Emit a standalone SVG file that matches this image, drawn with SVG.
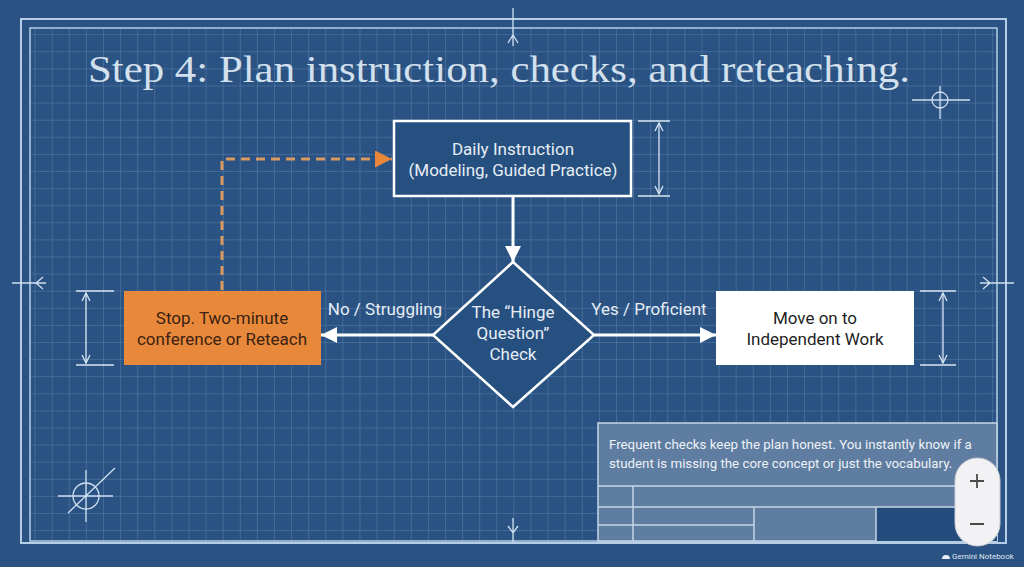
<svg xmlns="http://www.w3.org/2000/svg" width="1024" height="567" viewBox="0 0 1024 567">
  <defs>
    <pattern id="grid" x="0.4" y="0" width="17.1" height="17.1" patternUnits="userSpaceOnUse">
      <path d="M0,0 V17.1 M0,0 H17.1" fill="none" stroke="#a3c3e6" stroke-opacity="0.42" stroke-width="1"/>
    </pattern>
    <clipPath id="inner"><rect x="30" y="28" width="967" height="513"/></clipPath>
    <marker id="ah" viewBox="0 0 16 16" refX="16" refY="8" markerWidth="16" markerHeight="16" orient="auto" markerUnits="userSpaceOnUse">
      <path d="M0,0 L16,8 L0,16 z" fill="#ffffff"/>
    </marker>
    <marker id="ahOrange" viewBox="0 0 16 16" refX="16" refY="8" markerWidth="17" markerHeight="17" orient="auto" markerUnits="userSpaceOnUse">
      <path d="M0,0 L16,8 L0,16 z" fill="#e8873a"/>
    </marker>
    <marker id="dim" viewBox="0 0 10 10" refX="9" refY="5" markerWidth="10" markerHeight="10" orient="auto-start-reverse" markerUnits="userSpaceOnUse">
      <path d="M1,1 L9,5 L1,9" fill="none" stroke="#d9e6f3" stroke-width="1.3"/>
    </marker>
    <style>
      .lbl { font-family: Roboto, "Liberation Sans", sans-serif; font-size: 17px; fill: #e6edf5; text-anchor: middle; }
      .dark { fill: #1f1f1f; }
      .brown { fill: #3a2312; }
      .frame { fill: none; stroke: #b5cde6; }
      .mark { fill: none; stroke: #cfe0f1; stroke-width: 1.3; }
      .dimline { fill: none; stroke: #d9e6f3; stroke-width: 1.3; }
      .node { stroke: #ffffff; stroke-width: 2.5; }
      .conn { fill: none; stroke: #ffffff; stroke-width: 3; }
      .panel { fill: #c9d3de; fill-opacity: 0.33; stroke: #c6d6e6; stroke-width: 1.5; }
      .note { font-family: Roboto, "Liberation Sans", sans-serif; font-size: 13.3px; fill: #eef2f7; }
    </style>
  </defs>

  <!-- background -->
  <rect x="0" y="0" width="1024" height="567" fill="#2a5383"/>
  <rect x="30" y="28" width="967" height="513" fill="url(#grid)" clip-path="url(#inner)"/>
  <rect class="frame" x="21" y="19" width="985" height="524" stroke-width="2"/>
  <rect class="frame" x="30" y="28" width="967" height="513" stroke-width="1.5"/>

  <!-- registration marks -->
  <g id="marks">
    <path class="mark" d="M513,8 V46 M508,43 L513,35 L518,43"/>
    <path class="mark" d="M513,518 V542 M508,526 L513,533 L518,526"/>
    <path class="mark" d="M12,283 H46 M43,277 L36,283 L43,289"/>
    <path class="mark" d="M980,283 H1014 M983,277 L990,283 L983,289"/>
    <circle class="mark" cx="940" cy="100" r="8"/>
    <path class="mark" d="M912,100 H970 M940,86 V119"/>
    <circle class="mark" cx="86" cy="496" r="13"/>
    <path class="mark" d="M58,496 H113 M86,470 V522 M68,513 L115,468"/>
  </g>

  <!-- title -->
  <text id="title" x="88" y="82" font-family="'Liberation Serif', 'DejaVu Serif', serif" font-size="38" fill="#d3e0ee" textLength="822" lengthAdjust="spacingAndGlyphs">Step 4: Plan instruction, checks, and reteaching.</text>

  <!-- dimension markers -->
  <g id="dimensions">
    <path class="dimline" d="M638,121 H670 M638,196 H670"/>
    <line class="dimline" x1="659" y1="123" x2="659" y2="194" marker-start="url(#dim)" marker-end="url(#dim)"/>
    <path class="dimline" d="M76,291 H114 M76,365 H114"/>
    <line class="dimline" x1="86" y1="293" x2="86" y2="363" marker-start="url(#dim)" marker-end="url(#dim)"/>
    <path class="dimline" d="M920,291 H956 M920,365 H956"/>
    <line class="dimline" x1="943" y1="293" x2="943" y2="363" marker-start="url(#dim)" marker-end="url(#dim)"/>
  </g>

  <!-- connectors -->
  <g id="connectors">
    <line class="conn" x1="513" y1="197" x2="513" y2="262" marker-end="url(#ah)"/>
    <line class="conn" x1="433" y1="335" x2="321" y2="335" marker-end="url(#ah)"/>
    <line class="conn" x1="594" y1="335" x2="716" y2="335" marker-end="url(#ah)"/>
    <path d="M222,290 V159 H392" fill="none" stroke="#d99a62" stroke-width="3" stroke-dasharray="9,6" marker-end="url(#ahOrange)"/>
    <text class="lbl" x="385" y="315">No / Struggling</text>
    <text class="lbl" x="649" y="315">Yes / Proficient</text>
  </g>

  <!-- nodes -->
  <g id="daily">
    <rect class="node" x="394" y="121" width="237" height="75" fill="#265080"/>
    <text class="lbl" x="513" y="155">Daily Instruction</text>
    <text class="lbl" x="513" y="176">(Modeling, Guided Practice)</text>
  </g>

  <g id="hinge">
    <polygon class="node" points="513,262 594,335 513,407 433,335" fill="#265080"/>
    <text class="lbl" x="513" y="318">The “Hinge</text>
    <text class="lbl" x="513" y="339">Question”</text>
    <text class="lbl" x="513" y="360">Check</text>
  </g>

  <g id="stop">
    <rect x="124" y="291" width="197" height="74" fill="#e8883b"/>
    <text class="lbl brown" x="222" y="324">Stop. Two-minute</text>
    <text class="lbl brown" x="222" y="345">conference or Reteach</text>
  </g>

  <g id="move">
    <rect x="716" y="291" width="198" height="74" fill="#ffffff"/>
    <text class="lbl dark" x="815" y="324">Move on to</text>
    <text class="lbl dark" x="815" y="345">Independent Work</text>
  </g>

  <!-- note panel / title block -->
  <g id="note">
    <rect x="598" y="423" width="399" height="118" fill="#2a5383"/>
    <rect class="panel" x="598" y="423" width="399" height="118"/>
    <rect x="876" y="507" width="121" height="34" fill="#234c7c"/>
    <path d="M598,486 H997 M598,507 H997 M598,525 H754 M633,486 V541 M754,507 V541 M876,507 V541" fill="none" stroke="#c6d6e6" stroke-width="1.5"/>
    <text class="note" x="609" y="449">Frequent checks keep the plan honest. You instantly know if a</text>
    <text class="note" x="609" y="468">student is missing the core concept or just the vocabulary.</text>
  </g>

  <!-- zoom widget -->
  <g id="zoomctl">
    <rect x="955" y="458" width="45" height="88" rx="22.5" fill="#f2f2f4" stroke="#c9ced6" stroke-width="1"/>
    <path d="M970,481 H984 M977,474 V488 M970,524 H984" fill="none" stroke="#4a4a4a" stroke-width="1.8"/>
  </g>

  <!-- watermark -->
  <g id="watermark">
    <path d="M942,559 A4,4 0 0 1 950,559 Z" fill="#e8eef5"/>
    <text x="952" y="559" font-family="Roboto, 'Liberation Sans', sans-serif" font-size="8" fill="#dfe6ee">Gemini Notebook</text>
  </g>
</svg>
